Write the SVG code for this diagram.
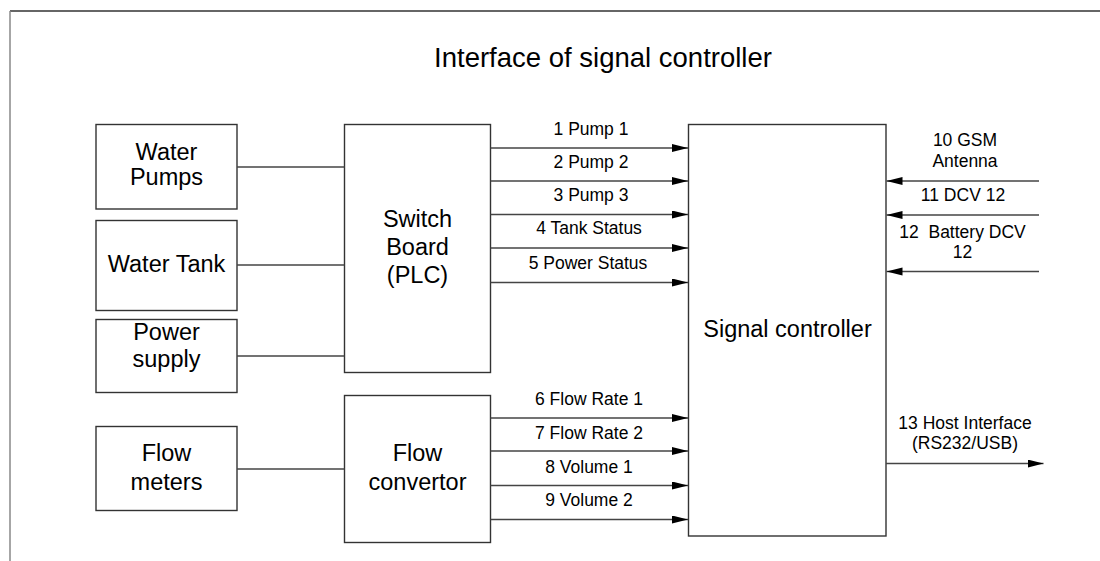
<svg xmlns="http://www.w3.org/2000/svg" width="1100" height="561" viewBox="0 0 1100 561">
<style>
.box{fill:#fff;stroke:#333;stroke-width:1.4}
.big{font-family:"Liberation Sans",Arial,sans-serif;font-size:23.5px;fill:#000;text-anchor:middle}
.lbl{font-family:"Liberation Sans",Arial,sans-serif;font-size:17.5px;fill:#000;text-anchor:middle}
.ln{stroke:#444;stroke-width:1.3;fill:none}
.arr{stroke:#444;stroke-width:1.3;fill:none;marker-end:url(#ah)}
</style>
<defs>
<marker id="ah" markerUnits="userSpaceOnUse" markerWidth="17" markerHeight="9" refX="16" refY="4" orient="auto">
<path d="M0,0 L16,4 L0,8 z" fill="#000"/>
</marker>
</defs>
<rect width="1100" height="561" fill="#fff"/>
<g id="frame">
<line x1="10" y1="11" x2="1100" y2="11" stroke="#333" stroke-width="1.5"/>
<line x1="10" y1="11" x2="10" y2="561" stroke="#888" stroke-width="1.5"/>
</g>
<text id="title" x="603" y="67" font-family="Liberation Sans, Arial, sans-serif" font-size="27.5" text-anchor="middle">Interface of signal controller</text>
<g id="water-pumps"><rect class="box" x="96" y="124.5" width="141" height="84.5"/><text class="big" x="166.5" y="159.5">Water</text><text class="big" x="166.5" y="184.5">Pumps</text></g>
<g id="water-tank"><rect class="box" x="96" y="220.5" width="141" height="90"/><text class="big" x="166.5" y="272">Water Tank</text></g>
<g id="power-supply"><rect class="box" x="96" y="319.5" width="141" height="73"/><text class="big" x="166.5" y="340">Power</text><text class="big" x="166.5" y="367">supply</text></g>
<g id="flow-meters"><rect class="box" x="96" y="426.5" width="141" height="84"/><text class="big" x="166.5" y="461">Flow</text><text class="big" x="166.5" y="490">meters</text></g>
<g id="switch-board"><rect class="box" x="344.5" y="124.5" width="146" height="248"/><text class="big" x="417.5" y="227">Switch</text><text class="big" x="417.5" y="255">Board</text><text class="big" x="417.5" y="283">(PLC)</text></g>
<g id="flow-convertor"><rect class="box" x="344.5" y="395.5" width="146" height="147"/><text class="big" x="417.5" y="461">Flow</text><text class="big" x="417.5" y="490">convertor</text></g>
<g id="signal-controller"><rect class="box" x="688.5" y="124.5" width="197.5" height="411.5"/><text class="big" x="787.5" y="337">Signal controller</text></g>
<g id="connectors">
<line class="ln" x1="237" y1="167" x2="344.5" y2="167"/>
<line class="ln" x1="237" y1="265" x2="344.5" y2="265"/>
<line class="ln" x1="237" y1="356" x2="344.5" y2="356"/>
<line class="ln" x1="237" y1="469" x2="344.5" y2="469"/>
<line class="arr" x1="490.5" y1="148" x2="688" y2="148"/>
<line class="arr" x1="490.5" y1="181" x2="688" y2="181"/>
<line class="arr" x1="490.5" y1="214.5" x2="688" y2="214.5"/>
<line class="arr" x1="490.5" y1="248" x2="688" y2="248"/>
<line class="arr" x1="490.5" y1="282.5" x2="688" y2="282.5"/>
<line class="arr" x1="490.5" y1="418" x2="688" y2="418"/>
<line class="arr" x1="490.5" y1="451" x2="688" y2="451"/>
<line class="arr" x1="490.5" y1="485.5" x2="688" y2="485.5"/>
<line class="arr" x1="490.5" y1="519.5" x2="688" y2="519.5"/>
<line class="arr" x1="1039" y1="181" x2="886.5" y2="181"/>
<line class="arr" x1="1039" y1="215" x2="886.5" y2="215"/>
<line class="arr" x1="1039" y1="271.5" x2="886.5" y2="271.5"/>
<line class="arr" x1="886" y1="463.5" x2="1043.5" y2="463.5"/>
<text class="lbl" x="591" y="135">1 Pump 1</text>
<text class="lbl" x="591" y="167.5">2 Pump 2</text>
<text class="lbl" x="591" y="200.5">3 Pump 3</text>
<text class="lbl" x="589" y="234">4 Tank Status</text>
<text class="lbl" x="588" y="268.5">5 Power Status</text>
<text class="lbl" x="589" y="404.5">6 Flow Rate 1</text>
<text class="lbl" x="589" y="438.5">7 Flow Rate 2</text>
<text class="lbl" x="589" y="472.5">8 Volume 1</text>
<text class="lbl" x="589" y="505.5">9 Volume 2</text>
<text class="lbl" x="965" y="146">10 GSM</text>
<text class="lbl" x="965" y="166.5">Antenna</text>
<text class="lbl" x="963" y="201">11 DCV 12</text>
<text class="lbl" x="962.5" y="237.5" xml:space="preserve">12  Battery DCV</text>
<text class="lbl" x="962.5" y="257.5">12</text>
<text class="lbl" x="965" y="428.5">13 Host Interface</text>
<text class="lbl" x="965" y="449">(RS232/USB)</text>
</g>
</svg>
